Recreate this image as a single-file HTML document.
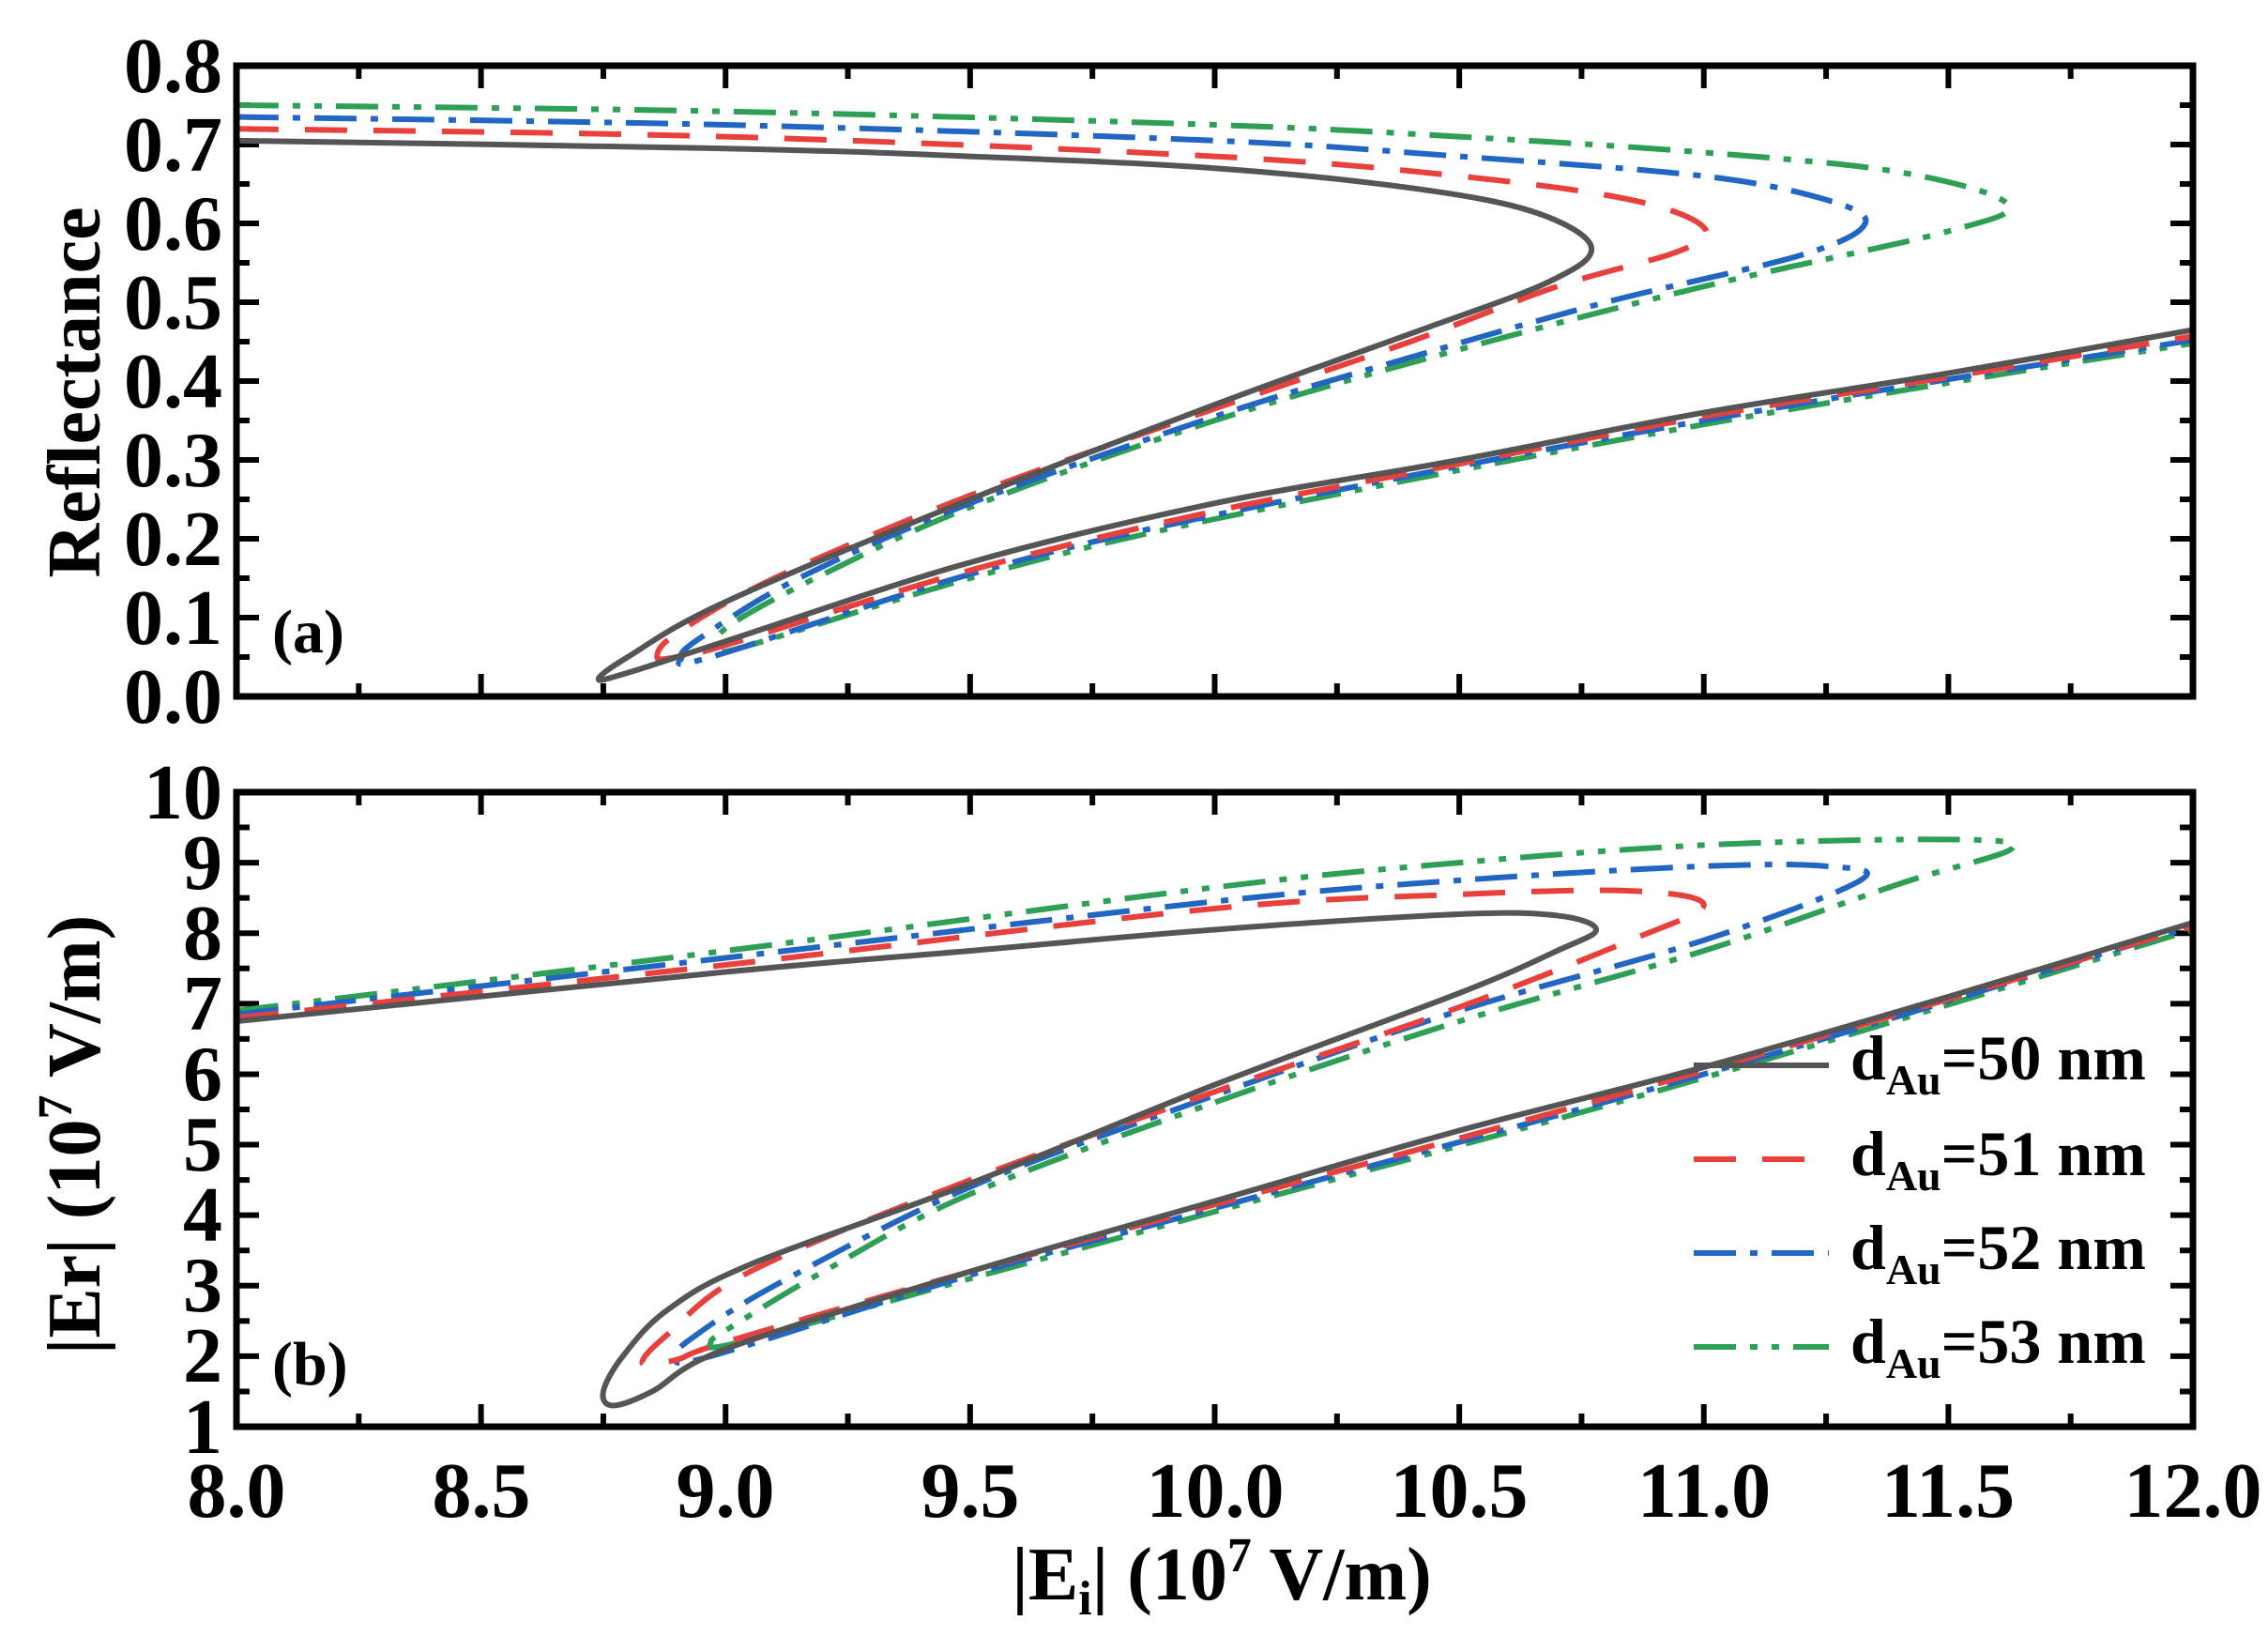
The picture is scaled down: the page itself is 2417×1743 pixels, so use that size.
<!DOCTYPE html>
<html><head><meta charset="utf-8"><style>
html,body{margin:0;padding:0;background:#fff}
svg{display:block}
text{font-family:"Liberation Serif",serif;font-weight:bold;fill:#000}
</style></head><body>
<svg id="s" width="2417" height="1743" viewBox="0 0 2417 1743" xmlns="http://www.w3.org/2000/svg">
<g id="ticks" stroke="#000" stroke-width="6"></g>
<g id="curves" fill="none" stroke-width="6" stroke-linecap="butt" stroke-linejoin="round"></g>
<rect x="252" y="70" width="2085" height="672" fill="none" stroke="#000" stroke-width="7"/>
<rect x="252" y="844" width="2085" height="676" fill="none" stroke="#000" stroke-width="7"/>
<g font-size="84" text-anchor="end">
<text x="237" y="98">0.8</text><text x="237" y="182">0.7</text><text x="237" y="266">0.6</text>
<text x="237" y="350">0.5</text><text x="237" y="434">0.4</text><text x="237" y="518">0.3</text>
<text x="237" y="602">0.2</text><text x="237" y="686">0.1</text><text x="237" y="770">0.0</text>
<text x="237" y="872">10</text><text x="237" y="947">9</text><text x="237" y="1022">8</text>
<text x="237" y="1097">7</text><text x="237" y="1172">6</text><text x="237" y="1247">5</text>
<text x="237" y="1322">4</text><text x="237" y="1397">3</text><text x="237" y="1472">2</text>
<text x="237" y="1548">1</text>
</g>
<g font-size="84" text-anchor="middle">
<text x="252" y="1616">8.0</text><text x="513" y="1616">8.5</text><text x="773" y="1616">9.0</text>
<text x="1034" y="1616">9.5</text><text x="1295" y="1616">10.0</text><text x="1555" y="1616">10.5</text>
<text x="1816" y="1616">11.0</text><text x="2076" y="1616">11.5</text><text x="2337" y="1616">12.0</text>
</g>
<text font-size="80" transform="translate(106,418) rotate(-90)" text-anchor="middle">Reflectance</text>
<text font-size="80" transform="translate(106,1209) rotate(-90)" text-anchor="middle">|Er| (10<tspan font-size="52" dy="-30">7</tspan><tspan dy="30"> V/m)</tspan></text>
<text font-size="80" x="1302" y="1704" text-anchor="middle">|E<tspan font-size="52" dy="16">i</tspan><tspan dy="-16">| (10</tspan><tspan font-size="52" dy="-30">7</tspan><tspan dy="30"> V/m)</tspan></text>
<text font-size="66" x="290" y="695">(a)</text>
<text font-size="66" x="290" y="1475">(b)</text>
<g font-size="68">
<text x="1972" y="1150">d<tspan font-size="46" dy="16">Au</tspan><tspan dy="-16">=50 nm</tspan></text>
<text x="1972" y="1252">d<tspan font-size="46" dy="16">Au</tspan><tspan dy="-16">=51 nm</tspan></text>
<text x="1972" y="1352">d<tspan font-size="46" dy="16">Au</tspan><tspan dy="-16">=52 nm</tspan></text>
<text x="1972" y="1452">d<tspan font-size="46" dy="16">Au</tspan><tspan dy="-16">=53 nm</tspan></text>
</g>
<g stroke-width="6">
<line x1="1805" y1="1135" x2="1949" y2="1135" stroke="#555"/>
<line x1="1805" y1="1235" x2="1949" y2="1235" stroke="#e8403c" stroke-dasharray="45,28"/>
<line x1="1805" y1="1335" x2="1949" y2="1335" stroke="#2266c4" stroke-dasharray="45,15,8,15"/>
<line x1="1805" y1="1435" x2="1949" y2="1435" stroke="#2ea055" stroke-dasharray="45,15,8,15,8,15"/>
</g>
</svg>
<script>
var X=function(v){return 252+(v-8)*521.25;};
var YA=function(v){return 742-v*840;};
var YB=function(v){return 1520-(v-1)*75.111;};
var NS="http://www.w3.org/2000/svg";
var tk=document.getElementById('ticks'),d="";
for(var i=0;i<=16;i++){var x=X(8+i*0.25),L=(i%2==0)?24:14;
 d+="M"+x+" 70v"+L+"M"+x+" 742v"+(-L)+"M"+x+" 844v"+L+"M"+x+" 1520v"+(-L);}
for(var i=0;i<=16;i++){var y=YA(i*0.05),L=(i%2==0)?24:14;d+="M252 "+y+"h"+L+"M2337 "+y+"h"+(-L);}
for(var i=0;i<=18;i++){var y=YB(1+i*0.5),L=(i%2==0)?24:14;d+="M252 "+y+"h"+L+"M2337 "+y+"h"+(-L);}
var p=document.createElementNS(NS,"path");p.setAttribute("d",d);tk.appendChild(p);
function cr(pts){var s="M"+pts[0][0]+" "+pts[0][1];
 for(var i=0;i<pts.length-1;i++){var p0=pts[Math.max(i-1,0)],p1=pts[i],p2=pts[i+1],p3=pts[Math.min(i+2,pts.length-1)];
 s+="C"+(p1[0]+(p2[0]-p0[0])/6)+" "+(p1[1]+(p2[1]-p0[1])/6)+" "+(p2[0]-(p3[0]-p1[0])/6)+" "+(p2[1]-(p3[1]-p1[1])/6)+" "+p2[0]+" "+p2[1];}
 return s;}
var styles=[["#555",""],["#e8403c","45,28"],["#2266c4","45,15,8,15"],["#2ea055","45,15,8,15,8,15"]];
var A=[
[[8,0.705],[9,0.695],[9.5,0.685],[10,0.67],[10.4,0.645],[10.65,0.615],[10.77,0.57],[10.68,0.525],[10.4,0.46],[10,0.37],[9.5,0.25],[9,0.12],[8.8,0.05],[8.74,0.022],[8.8,0.03],[9,0.07],[9.5,0.17],[10,0.245],[10.5,0.3],[11,0.36],[11.5,0.41],[12,0.465]],
[[8,0.72],[9,0.71],[10,0.685],[10.5,0.66],[10.85,0.63],[11,0.595],[10.95,0.565],[10.7,0.52],[10.4,0.45],[10,0.365],[9.5,0.255],[9.1,0.15],[8.9,0.08],[8.86,0.05],[8.9,0.05],[9,0.065],[9.5,0.16],[10,0.235],[10.5,0.295],[11,0.355],[11.5,0.405],[12,0.457]],
[[8,0.735],[9,0.725],[10,0.705],[10.5,0.685],[11,0.66],[11.25,0.63],[11.33,0.6],[11.2,0.56],[10.8,0.5],[10.4,0.43],[10,0.355],[9.5,0.245],[9.15,0.15],[8.95,0.075],[8.91,0.05],[8.97,0.05],[9.5,0.155],[10,0.23],[11,0.35],[12,0.452]],
[[8,0.75],[9,0.742],[10,0.725],[10.5,0.71],[11,0.69],[11.4,0.665],[11.62,0.625],[11.5,0.59],[11,0.52],[10.5,0.44],[10,0.35],[9.5,0.24],[9.2,0.155],[9.02,0.095],[8.98,0.068],[9.02,0.06],[9.5,0.15],[10,0.225],[11,0.345],[12,0.448]]];
var B=[
[[8,6.75],[9,7.45],[9.5,7.75],[10,8.05],[10.5,8.27],[10.7,8.25],[10.78,8.05],[10.7,7.75],[10.5,7.15],[10,5.85],[9.5,4.45],[9.05,3.3],[8.88,2.65],[8.79,2.0],[8.75,1.5],[8.77,1.3],[8.85,1.5],[9,2.1],[9.5,3.2],[10,4.2],[10.5,5.2],[11,6.1],[11.5,7.1],[12,8.15]],
[[8,6.8],[9,7.55],[10,8.35],[10.5,8.55],[10.85,8.6],[11,8.4],[10.85,7.9],[10.5,6.95],[10,5.75],[9.5,4.5],[9.05,3.2],[8.88,2.3],[8.83,1.9],[8.9,1.95],[9,2.2],[9.5,3.2],[10,4.15],[11,6.05],[12,8.1]],
[[8,6.85],[9,7.65],[10,8.45],[10.5,8.75],[11,8.95],[11.25,8.95],[11.32,8.75],[11,7.9],[10.5,6.9],[10,5.7],[9.5,4.4],[9.1,3.0],[8.93,2.25],[8.9,2.0],[8.97,2.0],[9.5,3.15],[10,4.1],[11,6.0],[12,8.1]],
[[8,6.9],[9,7.75],[10,8.65],[10.5,9.0],[11,9.25],[11.5,9.33],[11.63,9.2],[11.4,8.7],[11,7.75],[10.5,6.75],[10,5.6],[9.5,4.3],[9.2,3.2],[9.02,2.45],[8.97,2.2],[9.03,2.2],[9.5,3.1],[10,4.05],[11,5.95],[12,8.05]]];
var cg=document.getElementById('curves');
for(var k=3;k>=0;k--){
 [[A[k],YA],[B[k],YB]].forEach(function(q){
  var pts=q[0].map(function(v){return [X(v[0]),q[1](v[1])];});
  var e=document.createElementNS(NS,"path");e.setAttribute("d",cr(pts));
  e.setAttribute("stroke",styles[k][0]);if(styles[k][1])e.setAttribute("stroke-dasharray",styles[k][1]);
  cg.appendChild(e);});
}
</script>
</body></html>
